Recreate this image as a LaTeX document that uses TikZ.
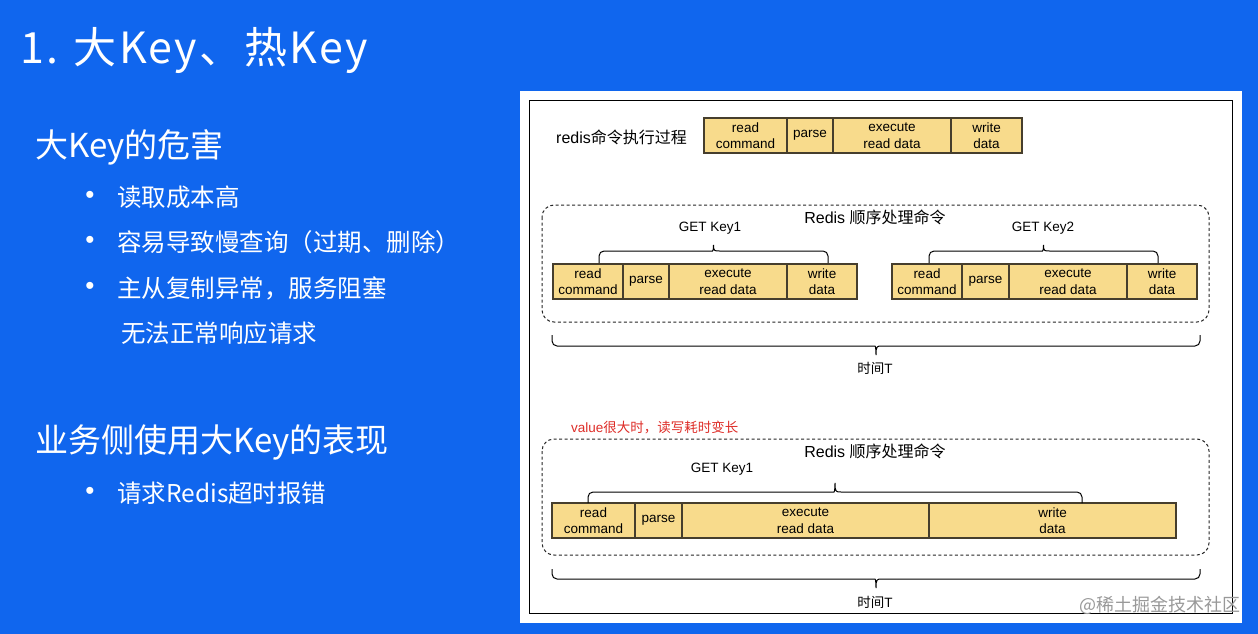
\documentclass[tikz,border=0pt]{standalone}
\usepackage{fontspec}
\setmainfont{Liberation Sans}
\newfontfamily\cjk{Noto Sans CJK SC}
\usetikzlibrary{positioning}

\definecolor{slideblue}{RGB}{16,102,238}
\definecolor{cellfill}{RGB}{248,219,140}
\definecolor{celledge}{RGB}{70,62,45}
\definecolor{notered}{RGB}{222,45,40}

\tikzset{
  cell/.style={draw=celledge, fill=cellfill, line width=1.1pt, minimum height=35,
    inner sep=0pt, outer sep=0pt, align=center, font=\fontsize{13.5}{16.5}\selectfont},
  group/.style={draw=black!85, dash pattern=on 3pt off 2.5pt, rounded corners=12pt, line width=1pt},
  lbl/.style={inner sep=0pt, font=\fontsize{13.5}{16}\selectfont},
  big/.style={inner sep=0pt, text=white, anchor=west, font=\cjk\fontsize{33}{36}\selectfont},
  item/.style={inner sep=0pt, text=white, anchor=west, font=\cjk\fontsize{24.5}{28}\selectfont},
  dot/.style={inner sep=0pt, text=white, font=\fontsize{26}{28}\selectfont},
}

% brace: x1, x2, y of the ends, y of the bar, y of the tip
\newcommand{\keybrace}[5]{%
  \draw[line width=1pt] (#1,#3) [rounded corners=5pt] -- (#1,#4) -- ({(#1+#2)/2-6},#4) [sharp corners]
    .. controls ({(#1+#2)/2-1},#4) and ({(#1+#2)/2},#4) .. ({(#1+#2)/2},#5)
    .. controls ({(#1+#2)/2},#4) and ({(#1+#2)/2+1},#4) .. ({(#1+#2)/2+6},#4)
    [rounded corners=5pt] -- (#2,#4) -- (#2,#3);}

\begin{document}
\begin{tikzpicture}[x=1pt,y=-1pt]
   \useasboundingbox (0,0) rectangle (1258,634);
   \fill[slideblue] (0,0) rectangle (1258,634);

   % left side
   \node[inner sep=0pt, text=white, anchor=west, font=\cjk\fontsize{43}{46}\selectfont\addfontfeature{LetterSpace=5}] (title) at (20,50) {1. 大Key、热Key};
   \node[big] (harm) at (35,147) {大Key的危害};
   \foreach \y/\t [count=\i] in {197/读取成本高, 242/容易导致慢查询（过期、删除）, 288/{主从复制异常，服务阻塞}} {
     \node[dot] (dot\i) at (90,\y) {•};
     \node[item] (harm\i) at (117,\y) {\t};
   }
   \node[item] (harm4) at (121,333) {无法正常响应请求};
   \node[big] (usage) at (35,442) {业务侧使用大Key的表现};
   \node[dot] (dot5) at (90,493) {•};
   \node[item] (usage1) at (117,493) {请求Redis超时报错};

   % panel
   \fill[white] (520,91) rectangle (1242,623);
   \draw[line width=0.8pt] (529,100) rectangle (1232,613);

   % one command
   \node[inner sep=0pt, anchor=west, font=\fontsize{16}{18}\selectfont] (steps) at (556,137) {redis{\cjk 命令执行过程}};
   \node[cell, minimum width=83, anchor=north west] (rc0) at (704,118) {read\\command};
   \node[cell, minimum width=46, right=0pt of rc0] (pa0) {parse};
   \node[cell, minimum width=118, right=0pt of pa0] (ex0) {execute\\read data};
   \node[cell, minimum width=71, right=0pt of ex0] (wd0) {write\\data};

   % two small keys
   \draw[group] (542,205) rectangle (1209,322);
   \node[inner sep=0pt, font=\fontsize{16}{18}\selectfont] (seq1) at (875,217) {Redis {\cjk 顺序处理命令}};
   \node[lbl] (get1) at (710,228) {GET Key1};
   \node[lbl] (get2) at (1043,228) {GET Key2};
   \node[cell, minimum width=70, anchor=north west] (rc1) at (553,264) {read\\command};
   \node[cell, minimum width=46, right=0pt of rc1] (pa1) {parse};
   \node[cell, minimum width=118, right=0pt of pa1] (ex1) {execute\\read data};
   \node[cell, minimum width=70, right=0pt of ex1] (wd1) {write\\data};
   \node[cell, minimum width=70, anchor=north west] (rc2) at (892,264) {read\\command};
   \node[cell, minimum width=47, right=0pt of rc2] (pa2) {parse};
   \node[cell, minimum width=118, right=0pt of pa2] (ex2) {execute\\read data};
   \node[cell, minimum width=70, right=0pt of ex2] (wd2) {write\\data};
   \keybrace{599}{828}{263}{251}{245}
   \keybrace{929}{1158}{263}{251}{245}
   \keybrace{552}{1200}{335}{346}{355}
   \node[lbl] (time1) at (875,368) {{\cjk 时间}T};

   % one big key
   \node[lbl, anchor=west, text=notered] (note) at (571,427) {value{\cjk 很大时，读写耗时变长}};
   \draw[group] (542,439) rectangle (1209,555);
   \node[inner sep=0pt, font=\fontsize{16}{18}\selectfont] (seq2) at (875,451) {Redis {\cjk 顺序处理命令}};
   \node[lbl] (get3) at (722,469) {GET Key1};
   \node[cell, minimum width=83, anchor=north west] (rc3) at (552,503) {read\\command};
   \node[cell, minimum width=47, right=0pt of rc3] (pa3) {parse};
   \node[cell, minimum width=247, right=0pt of pa3] (ex3) {execute\\read data};
   \node[cell, minimum width=247, right=0pt of ex3] (wd3) {write\\data};
   \keybrace{588}{1082}{503}{492}{483}
   \keybrace{552}{1200}{569}{579}{588}
   \node[lbl] (time2) at (875,602) {{\cjk 时间}T};

   \node[inner sep=0pt, anchor=east, text=black!40, font=\cjk\fontsize{18}{20}\selectfont] (mark) at (1241,605) {@稀土掘金技术社区};
\end{tikzpicture}
\end{document}
